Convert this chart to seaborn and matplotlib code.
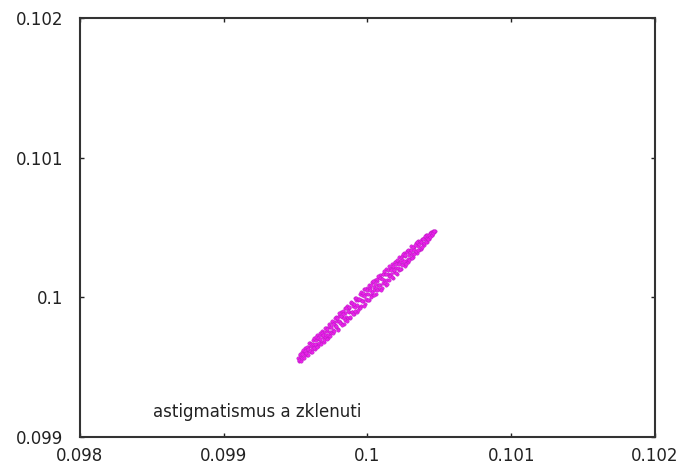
import matplotlib
matplotlib.use("Agg")
import matplotlib.pyplot as plt
import seaborn as sns
import pandas as pd

# Ray intercept coordinates (x, y) for the astigmatism + tilt case
x_vals = [
    0.099520, 0.099526, 0.099532, 0.099538, 0.099544, 0.099550, 0.099556, 0.099562, 0.099568, 0.099574,
    0.099580, 0.099586, 0.099592, 0.099598, 0.099604, 0.099610, 0.099616, 0.099622, 0.099628, 0.099634,
    0.099640, 0.099646, 0.099652, 0.099658, 0.099664, 0.099670, 0.099676, 0.099682, 0.099688, 0.099694,
    0.099700, 0.099706, 0.099712, 0.099718, 0.099724, 0.099730, 0.099736, 0.099742, 0.099748, 0.099754,
    0.099760, 0.099766, 0.099772, 0.099778, 0.099784, 0.099790, 0.099796, 0.099802, 0.099808, 0.099814,
    0.099820, 0.099826, 0.099832, 0.099838, 0.099844, 0.099850, 0.099856, 0.099862, 0.099868, 0.099874,
    0.099880, 0.099886, 0.099892, 0.099898, 0.099904, 0.099910, 0.099916, 0.099922, 0.099928, 0.099934,
    0.099940, 0.099946, 0.099952, 0.099958, 0.099964, 0.099970, 0.099976, 0.099982, 0.099988, 0.099994,
    0.100000, 0.100006, 0.100012, 0.100018, 0.100024, 0.100030, 0.100036, 0.100042, 0.100048, 0.100054,
    0.100060, 0.100066, 0.100072, 0.100078, 0.100084, 0.100090, 0.100096, 0.100102, 0.100108, 0.100114,
    0.100120, 0.100126, 0.100132, 0.100138, 0.100144, 0.100150, 0.100156, 0.100162, 0.100168, 0.100174,
    0.100180, 0.100186, 0.100192, 0.100198, 0.100204, 0.100210, 0.100216, 0.100222, 0.100228, 0.100234,
    0.100240, 0.100246, 0.100252, 0.100258, 0.100264, 0.100270, 0.100276, 0.100282, 0.100288, 0.100294,
    0.100300, 0.100306, 0.100312, 0.100318, 0.100324, 0.100330, 0.100336, 0.100342, 0.100348, 0.100354,
    0.100360, 0.100366, 0.100372, 0.100378, 0.100384, 0.100390, 0.100396, 0.100402, 0.100408, 0.100414,
    0.100420, 0.100426, 0.100432, 0.100438, 0.100444, 0.100450, 0.100456, 0.100462, 0.100468,
    0.099523, 0.099529, 0.099535, 0.099541, 0.099547, 0.099553, 0.099559, 0.099565, 0.099571, 0.099577,
    0.099583, 0.099589, 0.099595, 0.099601, 0.099607, 0.099613, 0.099619, 0.099625, 0.099631, 0.099637,
    0.099643, 0.099649, 0.099655, 0.099661, 0.099667, 0.099673, 0.099679, 0.099685, 0.099691, 0.099697,
    0.099703, 0.099709, 0.099715, 0.099721, 0.099727, 0.099733, 0.099739, 0.099745, 0.099751, 0.099757,
    0.099763, 0.099769, 0.099775, 0.099781, 0.099787, 0.099793, 0.099799, 0.099805, 0.099811, 0.099817,
    0.099823, 0.099829, 0.099835, 0.099841, 0.099847, 0.099853, 0.099859, 0.099865, 0.099871, 0.099877,
    0.099883, 0.099889, 0.099895, 0.099901, 0.099907, 0.099913, 0.099919, 0.099925, 0.099931, 0.099937,
    0.099943, 0.099949, 0.099955, 0.099961, 0.099967, 0.099973, 0.099979, 0.099985, 0.099991, 0.099997,
    0.100003, 0.100009, 0.100015, 0.100021, 0.100027, 0.100033, 0.100039, 0.100045, 0.100051, 0.100057,
    0.100063, 0.100069, 0.100075, 0.100081, 0.100087, 0.100093, 0.100099, 0.100105, 0.100111, 0.100117,
    0.100123, 0.100129, 0.100135, 0.100141, 0.100147, 0.100153, 0.100159, 0.100165, 0.100171, 0.100177,
    0.100183, 0.100189, 0.100195, 0.100201, 0.100207, 0.100213, 0.100219, 0.100225, 0.100231, 0.100237,
    0.100243, 0.100249, 0.100255, 0.100261, 0.100267, 0.100273, 0.100279, 0.100285, 0.100291, 0.100297,
    0.100303, 0.100309, 0.100315, 0.100321, 0.100327, 0.100333, 0.100339, 0.100345, 0.100351, 0.100357,
    0.100363, 0.100369, 0.100375, 0.100381, 0.100387, 0.100393, 0.100399, 0.100405, 0.100411, 0.100417,
    0.100423, 0.100429, 0.100435, 0.100441, 0.100447, 0.100453, 0.100459, 0.100465,
]
y_vals = [
    0.099565, 0.099546, 0.099590, 0.099570, 0.099608, 0.099564, 0.099605, 0.099586, 0.099637, 0.099609,
    0.099588, 0.099644, 0.099618, 0.099671, 0.099606, 0.099655, 0.099631, 0.099697, 0.099660, 0.099632,
    0.099691, 0.099664, 0.099730, 0.099654, 0.099699, 0.099733, 0.099683, 0.099762, 0.099713, 0.099683,
    0.099754, 0.099715, 0.099781, 0.099757, 0.099709, 0.099811, 0.099754, 0.099787, 0.099746, 0.099826,
    0.099742, 0.099823, 0.099799, 0.099859, 0.099785, 0.099831, 0.099775, 0.099865, 0.099820, 0.099896,
    0.099808, 0.099859, 0.099900, 0.099812, 0.099891, 0.099857, 0.099940, 0.099853, 0.099924, 0.099894,
    0.099852, 0.099959, 0.099895, 0.099937, 0.099883, 0.099995, 0.099931, 0.099984, 0.099896, 0.099982,
    0.099934, 0.100022, 0.099978, 0.099938, 0.100019, 0.099975, 0.100061, 0.099952, 0.100027, 0.099983,
    0.100066, 0.100022, 0.099978, 0.100066, 0.100019, 0.100108, 0.100014, 0.100073, 0.100052, 0.100124,
    0.100027, 0.100120, 0.100089, 0.100059, 0.100163, 0.100089, 0.100135, 0.100070, 0.100168, 0.100122,
    0.100165, 0.100088, 0.100204, 0.100127, 0.100168, 0.100124, 0.100210, 0.100166, 0.100241, 0.100142,
    0.100218, 0.100179, 0.100255, 0.100210, 0.100169, 0.100257, 0.100198, 0.100289, 0.100254, 0.100205,
    0.100294, 0.100242, 0.100315, 0.100225, 0.100294, 0.100257, 0.100333, 0.100254, 0.100302, 0.100338,
    0.100279, 0.100365, 0.100313, 0.100286, 0.100362, 0.100323, 0.100389, 0.100316, 0.100368, 0.100401,
    0.100342, 0.100393, 0.100345, 0.100421, 0.100385, 0.100426, 0.100375, 0.100417, 0.100446, 0.100399,
    0.100442, 0.100416, 0.100463, 0.100439, 0.100468, 0.100444, 0.100475, 0.100465, 0.100478,
    0.099548, 0.099591, 0.099547, 0.099591, 0.099568, 0.099620, 0.099568, 0.099619, 0.099605, 0.099647,
    0.099586, 0.099632, 0.099671, 0.099619, 0.099669, 0.099610, 0.099668, 0.099634, 0.099708, 0.099663,
    0.099714, 0.099643, 0.099709, 0.099674, 0.099747, 0.099700, 0.099669, 0.099748, 0.099728, 0.099696,
    0.099777, 0.099731, 0.099701, 0.099776, 0.099730, 0.099796, 0.099720, 0.099786, 0.099828, 0.099769,
    0.099810, 0.099761, 0.099855, 0.099797, 0.099853, 0.099769, 0.099830, 0.099886, 0.099813, 0.099867,
    0.099803, 0.099884, 0.099850, 0.099922, 0.099841, 0.099922, 0.099833, 0.099904, 0.099929, 0.099860,
    0.099966, 0.099897, 0.099961, 0.099878, 0.099949, 0.099905, 0.099998, 0.099944, 0.099987, 0.099908,
    0.099989, 0.099927, 0.100039, 0.099971, 0.100032, 0.099940, 0.100009, 0.100058, 0.099985, 0.100056,
    0.099982, 0.100085, 0.100051, 0.100004, 0.100085, 0.100036, 0.100120, 0.100016, 0.100095, 0.100069,
    0.100130, 0.100056, 0.100152, 0.100087, 0.100136, 0.100056, 0.100128, 0.100167, 0.100101, 0.100187,
    0.100103, 0.100169, 0.100099, 0.100198, 0.100154, 0.100224, 0.100150, 0.100193, 0.100144, 0.100225,
    0.100193, 0.100255, 0.100174, 0.100240, 0.100269, 0.100210, 0.100241, 0.100201, 0.100282, 0.100268,
    0.100229, 0.100307, 0.100260, 0.100301, 0.100240, 0.100323, 0.100272, 0.100339, 0.100270, 0.100323,
    0.100337, 0.100283, 0.100363, 0.100339, 0.100310, 0.100374, 0.100334, 0.100395, 0.100338, 0.100379,
    0.100403, 0.100356, 0.100396, 0.100362, 0.100420, 0.100389, 0.100439, 0.100395, 0.100426, 0.100445,
    0.100418, 0.100448, 0.100432, 0.100464, 0.100448, 0.100470, 0.100464, 0.100477,
]

x_ticks = [0.098, 0.099, 0.1, 0.101, 0.102]
y_ticks = [0.099, 0.1, 0.101, 0.102]
x_tick_labels = ["0.098", "0.099", "0.1", "0.101", "0.102"]
y_tick_labels = ["0.099", "0.1", "0.101", "0.102"]
caption = "astigmatismus a zklenuti"

df = pd.DataFrame({"x": x_vals, "y": y_vals})

sns.set_theme(style="white")
plt.rcParams["font.family"] = ["DejaVu Sans"]

fig = plt.figure(figsize=(6.86, 4.65), dpi=100)
ax = fig.add_axes([0.1166, 0.0602, 0.8382, 0.9011])

sns.scatterplot(data=df, x="x", y="y", ax=ax, color="#ea22ea",
                marker="o", s=6, linewidth=0.3, edgecolor="#b81ac0")

ax.set_xlim(0.098, 0.102)
ax.set_ylim(0.099, 0.102)
ax.set_xticks(x_ticks)
ax.set_xticklabels(x_tick_labels)
ax.set_yticks(y_ticks)
ax.set_yticklabels(y_tick_labels)
ax.set_xlabel("")
ax.set_ylabel("")

ax.tick_params(axis="both", which="both", direction="in", length=3, width=1,
               color="#222222", labelsize=12, labelcolor="#222222",
               top=True, right=True, bottom=True, left=True)
ax.tick_params(axis="x", pad=7)
ax.tick_params(axis="y", pad=12)
for s in ax.spines.values():
    s.set_visible(True)
    s.set_color("#333333")
    s.set_linewidth(1.5)

ax.text(0.099231, 0.09918, caption, fontsize=12, color="#222222",
        ha="center", va="center")

fig.savefig("out.png", dpi=100, facecolor="white")
